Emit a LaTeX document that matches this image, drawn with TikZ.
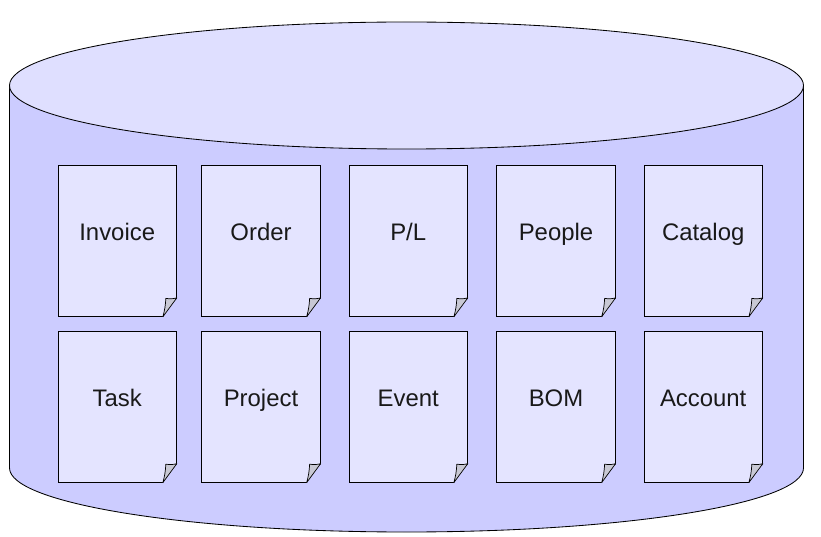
\documentclass[tikz,border=0pt]{standalone}
\usepackage{fontspec}
\setmainfont{Liberation Sans}
\definecolor{sidecol}{HTML}{CCCCFF}
\definecolor{topcol}{HTML}{DFDFFF}
\definecolor{doccol}{HTML}{E4E4FF}
\definecolor{foldcol}{HTML}{C8C8D4}
\tikzset{
    docnode/.style={draw,fill=doccol,line width=0.6pt,minimum width=2.96cm,minimum height=3.77cm,
        inner sep=0pt,text height=1cm,text depth=1cm,text=black!90,font=\fontsize{17}{20}\selectfont},
    storeline/.style={draw,line width=0.6pt},
}
\begin{document}
\begin{tikzpicture}[x=0.025cm,y=-0.025cm]
    \useasboundingbox (0,0) rectangle (821,537);

    % store
    \path[storeline,fill=sidecol] (9.5,85.5) -- (9.5,468) arc[start angle=180,end angle=360,x radius=397,y radius=-64]
        -- (803.5,85.5) -- cycle;
    \path[storeline,fill=topcol] (406.5,85.5) ellipse[x radius=397,y radius=63.5];

    % documents
    \node[docnode] (invoice) at (117.2,241) {Invoice};
    \node[docnode] (order) at (261,241) {Order};
    \node[docnode] (pl) at (408.2,241) {P/L};
    \node[docnode] (people) at (556,241) {People};
    \node[docnode] (catalog) at (703.2,241) {Catalog};

    \node[docnode] (task) at (117.2,406.8) {Task};
    \node[docnode] (project) at (261,406.8) {Project};
    \node[docnode] (event) at (408.2,406.8) {Event};
    \node[docnode] (bom) at (556,406.8) {BOM};
    \node[docnode] (account) at (703.2,406.8) {Account};

    % folded corners
    \foreach \d in {invoice,order,pl,people,catalog,task,project,event,bom,account} {
        \coordinate (flapb) at ([shift={(-14,0)}]\d.south east);
        \coordinate (flapr) at ([shift={(0,-19)}]\d.south east);
        \coordinate (flapt) at ([shift={(-11,-18.5)}]\d.south east);
        \fill[sidecol] ([shift={(0.6,0.6)}]\d.south east) -- ([shift={(0,0.6)}]flapb) -- ([shift={(0.6,0)}]flapr) -- cycle;
        \draw[line width=0.5pt,line join=round,fill=foldcol] (flapb) -- (flapr) to[bend left=12] (flapt) to[bend left=6] (flapb);
    }
\end{tikzpicture}
\end{document}
